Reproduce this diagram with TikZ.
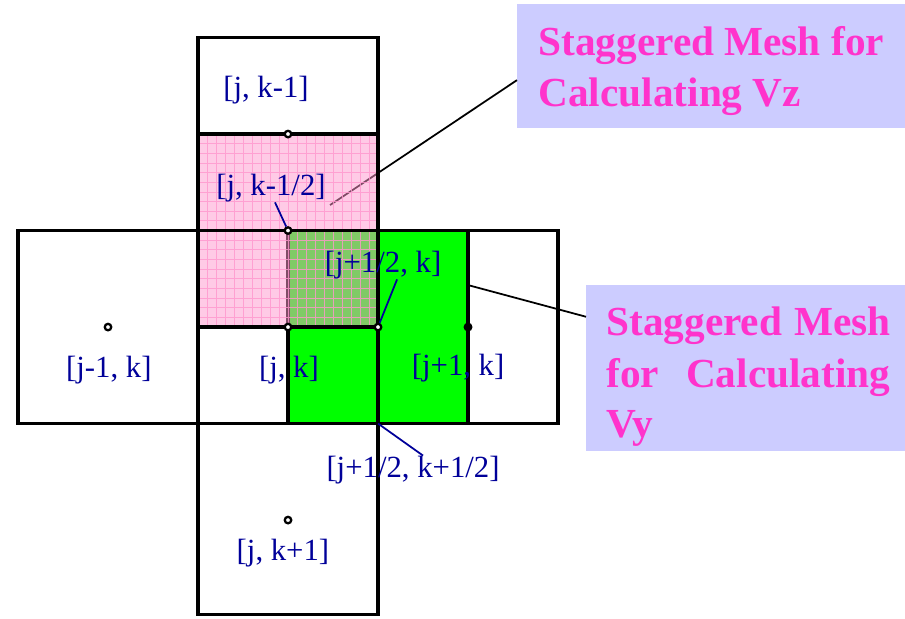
\documentclass[tikz,border=0pt]{standalone}
\usepackage{fontspec}
\setmainfont{Liberation Serif}
\usetikzlibrary{calc}
\definecolor{meshgreen}{RGB}{0,255,0}
\definecolor{meshpink}{RGB}{255,150,205}
\definecolor{labelblue}{RGB}{0,0,153}
\definecolor{titlepink}{RGB}{255,51,204}
\definecolor{titlefill}{RGB}{204,204,255}

\begin{document}
\begin{tikzpicture}[x=1.8cm, y=1.93cm,
    cell/.style={line width=2pt, black},
    hole/.style={circle, draw, line width=1.3pt, fill=white, inner sep=0pt, minimum size=0.13cm},
    gridlbl/.style={text=labelblue, font=\fontsize{17.5}{20}\selectfont, inner sep=0pt},
    pointer/.style={labelblue, line width=1pt},
    leader/.style={black, line width=1pt},
    titlebox/.style={fill=titlefill, inner sep=0pt, anchor=north west},
    titletext/.style={text=titlepink, font=\fontsize{23.5}{29}\selectfont\bfseries, inner sep=0pt, anchor=base west}]
    \useasboundingbox (-3.2, -3.016) rectangle (6.855, 3.389);

    % box of the Vz mesh
    \node[titlebox, minimum width=7.76cm, minimum height=2.48cm] (vzbox) at (2.544, 3.347) {};

    % staggered mesh for Vy
    \fill[meshgreen] (0,-1) rectangle (2,1);
    \draw[cell] (0,-1) rectangle (2,1);

    \coordinate (vzpt) at (0.467, 1.264);
    \draw[leader] ($(vzbox.south west)!0.39!(vzbox.north west)$) -- (vzpt);

    % staggered mesh for Vz
    \fill[meshpink, fill opacity=0.5] (-1,0) rectangle (1,2);
    \draw[meshpink, line width=0.5pt, opacity=0.8, step=0.1] (-1,0) grid (1,2);

    % cells
    \draw[cell] (-1,-2.98) rectangle (1,3);
    \draw[cell] (-3,-1) rectangle (3,1);
    \draw[cell] (-1,2) -- (1,2);
    \draw[cell] (-1,0) -- (1,0);

    \node[gridlbl] (jkm1) at (-0.244, 2.456) {[j, k-1]};
    \node[gridlbl] (jkmh) at (-0.189, 1.44) {[j, k-1/2]};
    \node[gridlbl] (jhk) at (1.056, 0.642) {[j+1/2, k]};
    \node[gridlbl] (jm1k) at (-1.99, -0.446) {[j-1, k]};
    \node[gridlbl] (jk) at (0.01, -0.446) {[j, k]};
    \node[gridlbl] (jp1k) at (1.89, -0.425) {[j+1, k]};
    \node[gridlbl] (jhkh) at (1.389, -1.48) {[j+1/2, k+1/2]};
    \node[gridlbl] (jkp1) at (-0.056, -2.34) {[j, k+1]};

    \node[hole] (d1) at (0, 2) {};
    \node[hole] (d2) at (0, 1) {};
    \node[hole] (d3) at (0, 0) {};
    \node[hole] (d4) at (1, 0) {};
    \node[hole, fill=black] (d5) at (2, 0) {};
    \node[hole] (d6) at (-2, 0) {};
    \node[hole] (d7) at (0, -2) {};

    \draw[pointer] ([xshift=0.08cm]jkmh.south) -- (d2);
    \draw[pointer] ([xshift=0.28cm]jhk.south) -- (d4);
    \coordinate (corner) at (1, -1);
    \draw[pointer] (corner) -- ([xshift=0.2cm]jhkh.north);

    % box of the Vy mesh
    \node[titlebox, minimum width=6.38cm, minimum height=3.32cm] (vybox) at (3.311, 0.435) {};
    \coordinate (vypt) at (2, 0.435);
    \draw[leader] (vypt) -- ($(vybox.north west)!0.19!(vybox.south west)$);

    \node[titletext] (vz1) at (2.778, 2.819) {Staggered Mesh for};
    \node[titletext] (vz2) at (2.778, 2.29) {Calculating Vz};
    \node[titletext] (vy1) at (3.533, -0.083) {\makebox[5.68cm][s]{Staggered Mesh}};
    \node[titletext] (vy2) at (3.533, -0.622) {\makebox[5.68cm][s]{for Calculating}};
    \node[titletext] (vy3) at (3.533, -1.14) {Vy};
\end{tikzpicture}
\end{document}
